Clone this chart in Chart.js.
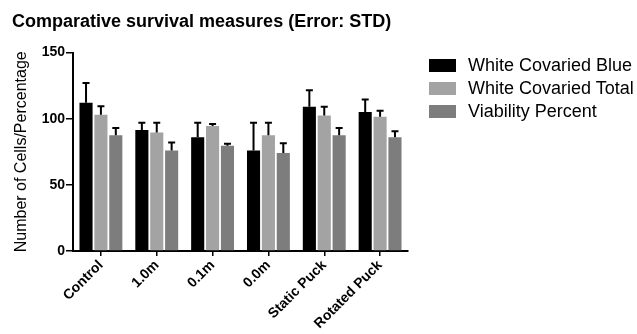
<!DOCTYPE html>
<html>
<head>
<meta charset="utf-8">
<script src="https://cdn.jsdelivr.net/npm/chart.js@4/dist/chart.umd.min.js"></script>
<style>
  html, body { margin: 0; padding: 0; background: #fff; }
  #wrap { position: relative; width: 637px; height: 334px; }
  #legend { position: absolute; left: 429px; top: 59px; font-family: Arial, 'Liberation Sans', Helvetica, sans-serif; font-size: 18px; color: #000; }
  #legend .row { height: 23px; display: flex; align-items: flex-start; white-space: nowrap; }
  #legend .box { width: 27px; height: 13px; margin-right: 12px; flex: none; }
  #legend .txt { line-height: 13px; }
</style>
</head>
<body>
<div id="wrap">
  <canvas id="myChart" width="637" height="334"></canvas>
  <div id="legend"></div>
</div>
<script>
// data
const categories = ['Control', '1.0m', '0.1m', '0.0m', 'Static Puck', 'Rotated Puck'];
const seriesNames = ['White Covaried Blue', 'White Covaried Total', 'Viability Percent'];
const blueVals = [112, 91.5, 86, 76, 109, 105];
const blueErr = [15, 5.5, 11, 21, 12.5, 9.5];
const totalVals = [103, 89.5, 94.5, 87.5, 102.5, 101.5];
const totalErr = [6.5, 7.5, 1.5, 9.5, 6.5, 4.5];
const viabVals = [87.5, 76, 79.5, 74, 87.5, 86];
const viabErr = [5.5, 6, 1.5, 7.5, 5.5, 4.5];
const yTicks = [0, 50, 100, 150];
const colors = ['#000000', '#a3a3a3', '#7d7d7d'];

const FONT = "Arial, 'Liberation Sans', Helvetica, sans-serif";

// legend built from the series names
const $legend = document.getElementById('legend');
seriesNames.forEach((name, i) => {
    const row = document.createElement('div');
    row.className = 'row';
    row.innerHTML = '<span class="box" style="background:' + colors[i] + '"></span><span class="txt">' + name + '</span>';
    $legend.appendChild(row);
});

// one-sided (upward) error bars with a cap
const errorBars = {
    id: 'errorBars',
    afterDatasetsDraw(chart) {
        const ctx = chart.ctx;
        const yScale = chart.scales.y;
        ctx.save();
        ctx.strokeStyle = '#000';
        ctx.lineWidth = 2;
        chart.data.datasets.forEach((ds, i) => {
            const meta = chart.getDatasetMeta(i);
            meta.data.forEach((bar, j) => {
                const top = yScale.getPixelForValue(ds.data[j] + ds.errors[j]);
                ctx.beginPath();
                ctx.moveTo(bar.x, bar.y);
                ctx.lineTo(bar.x, top);
                ctx.moveTo(bar.x - 3.5, top);
                ctx.lineTo(bar.x + 3.5, top);
                ctx.stroke();
            });
        });
        ctx.restore();
    }
};

const ctx = document.getElementById('myChart').getContext('2d');

window.myChart = new Chart(ctx, {
    type: 'bar',
    data: {
        labels: categories,
        datasets: [
            { label: seriesNames[0], data: blueVals, errors: blueErr, backgroundColor: colors[0] },
            { label: seriesNames[1], data: totalVals, errors: totalErr, backgroundColor: colors[1] },
            { label: seriesNames[2], data: viabVals, errors: viabErr, backgroundColor: colors[2] }
        ]
    },
    options: {
        responsive: false,
        animation: false,
        categoryPercentage: 0.8,
        barPercentage: 0.88,
        layout: { padding: { left: 12, right: 229, top: 0, bottom: 0 } },
        plugins: {
            title: {
                display: true,
                text: 'Comparative survival measures (Error: STD)',
                align: 'start',
                color: '#000',
                font: { family: FONT, size: 18, weight: 'bold' },
                padding: { top: 11, bottom: 20 }
            },
            legend: { display: false },
            tooltip: { enabled: false }
        },
        scales: {
            x: {
                grid: { display: true, drawOnChartArea: false, offset: false, tickLength: 5, color: '#000', lineWidth: 1.5 },
                border: { color: '#000', width: 2 },
                ticks: {
                    color: '#000',
                    minRotation: 45,
                    maxRotation: 45,
                    padding: 1,
                    font: { family: FONT, size: 14, weight: 'bold' }
                },
                afterFit(scale) { scale.height = 83; }
            },
            y: {
                min: 0,
                max: 150,
                afterBuildTicks(scale) { scale.ticks = yTicks.map(v => ({ value: v })); },
                grid: { display: true, drawOnChartArea: false, tickLength: 7, color: '#000', lineWidth: 1.5 },
                border: { color: '#000', width: 2 },
                ticks: {
                    color: '#000',
                    padding: 1,
                    font: { family: FONT, size: 14, weight: 'bold' }
                },
                title: {
                    display: true,
                    text: 'Number of Cells/Percentage',
                    color: '#000',
                    font: { family: FONT, size: 16 },
                    padding: { top: 0, bottom: 2 }
                },
                afterFit(scale) { scale.width = 61; }
            }
        }
    },
    plugins: [errorBars]
});
</script>
</body>
</html>
